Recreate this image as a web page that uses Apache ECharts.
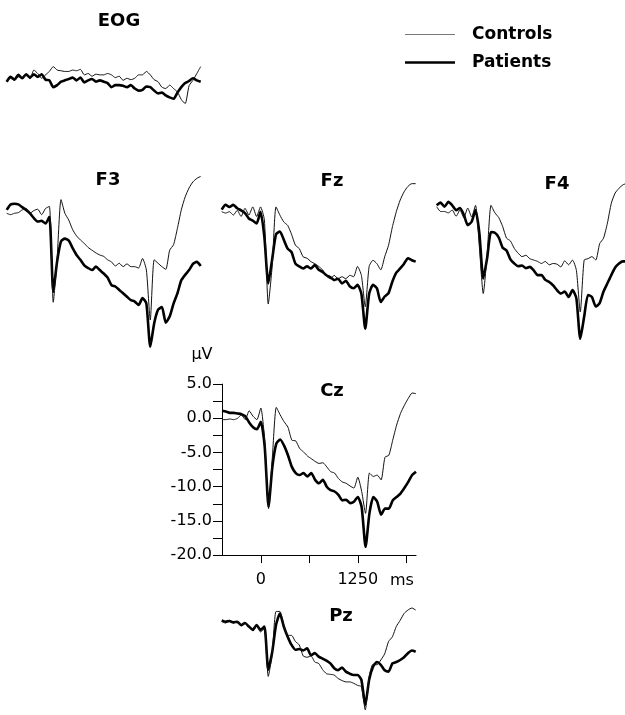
<!DOCTYPE html>
<html>
<head>
<meta charset="utf-8">
<script src="https://cdn.jsdelivr.net/npm/echarts@6/dist/echarts.min.js"></script>
<style>
html,body{margin:0;padding:0;background:#fff;}
#chart{width:625px;height:715px;}
</style>
</head>
<body>
<div id="chart"></div>
<script>
// time points (ms)
const time = [-500,-450,-400,-350,-300,-250,-200,-150,-100,-50,
  0,50,100,150,200,250,300,350,400,450,
  500,550,600,650,700,750,800,850,900,950,
  1000,1050,1100,1150,1200,1250,1300,1350,1400,1450,
  1500,1550,1600,1650,1700,1750,1800,1850,1900,1950,2000];

const seriesNames = ['Controls', 'Patients'];
const panelNames = ['EOG', 'F3', 'Fz', 'F4', 'Cz', 'Pz'];
const xTickValues = [0, 625, 1250, 1875];
const xLabelValues = [0, 1250];
const yLabelValues = [-20, -15, -10, -5, 0, 5];

// amplitudes (µV)
const eogControls = [0,0.5,0.2,0.7,0.6,1.0,0.4,1.7,1.2,0.5, 1.0,1.5,2.2,1.7,1.6,1.5,1.5,1.7,1.6,1.8, 1.0,1.2,0.8,1.1,1.0,1.0,1.2,1.0,0.6,0.8, 0.2,0.5,0.3,0.5,1.0,1.0,1.5,1.0,0.3,0, -0.8,-1.0,-0.5,-1.0,-1.5,-2.6,-3.2,-0.6,0.2,1.2, 2.2];
const eogPatients = [0,0.7,0.3,1.0,0.5,1.1,0.6,1.1,0.7,1.1, 0.3,0.2,-0.8,-0.5,0,0.2,0.4,0.6,0.2,0.6, -0.1,0.2,0.4,0,0.2,0,-0.2,-0.8,-0.5,-0.5, -0.6,-0.8,-0.5,-1.0,-1.3,-1.2,-0.7,-0.8,-1.3,-1.7, -1.6,-2.0,-2.3,-2.5,-1.6,-0.8,-0.2,0.1,0.5,0.2, 0];

const f3Controls = [0,-0.2,0,0.1,0.5,0.7,0,0.4,0.6,-0.2, 0.7,1.0,-13.0,-6.5,2.0,0,-1.0,-2.4,-3.3,-3.9, -4.4,-5.0,-5.4,-5.8,-6.1,-6.3,-6.8,-7.1,-7.7,-7.3, -7.8,-7.4,-7.8,-7.8,-8.0,-6.6,-8.3,-15.6,-6.8,-7.3, -7.8,-8.2,-5.4,-4.6,-2.2,0.5,2.4,3.7,4.6,5.1, 5.4];
const f3Patients = [0.5,1.3,1.4,1.3,0.9,0.5,0.0,-0.7,-1.2,-1.1, -1.5,-0.5,-11.5,-7.0,-4.1,-3.7,-4.0,-5.1,-6.1,-6.8, -7.6,-8.0,-8.3,-7.8,-8.3,-8.8,-9.4,-10.5,-10.7,-11.2, -11.7,-12.2,-12.7,-12.9,-13.4,-12.4,-13.2,-19.5,-16.1,-14.1, -13.7,-16.0,-15.1,-13.2,-11.7,-9.8,-9.0,-8.3,-7.4,-7.1, -7.7];

const fzControls = [0,-0.2,0,-0.5,0.2,-0.7,0.5,-0.5,0.7,-0.7, 0.7,-1.2,-13.5,-8.0,0.7,-0.5,-1.5,-2.0,-3.3,-4.9, -5.4,-6.6,-6.8,-7.3,-7.6,-8.0,-8.5,-9.4,-9.8,-9.3, -9.8,-9.5,-9.8,-9.3,-9.5,-8.0,-9.3,-13.9,-8.0,-7.1, -7.6,-8.5,-6.6,-4.9,-2.2,0,1.7,2.9,3.7,4.1, 4.1];
const fzPatients = [0.3,1.0,0.7,1.0,0.5,0.2,-0.2,-1.0,-1.3,-1.7, 0.0,-3.7,-10.5,-7.0,-3.3,-2.9,-4.1,-5.4,-5.9,-7.6, -8.0,-8.3,-8.0,-8.3,-7.8,-8.5,-8.8,-9.3,-9.6,-10.0, -9.8,-10.5,-10.1,-10.9,-11.2,-10.7,-12.0,-17.1,-12.0,-10.7, -11.2,-13.2,-12.4,-11.9,-10.2,-8.9,-8.3,-7.6,-6.8,-7.1, -7.3];

const f4Controls = [0,-0.7,-0.7,-0.9,-0.5,-1.4,-0.5,-1.6,-0.2,-1.5, 0.2,-5.9,-12.7,-7.0,0.2,-0.9,-1.6,-2.9,-4.6,-5.0, -6.1,-6.8,-7.3,-7.1,-7.6,-7.8,-8.0,-8.3,-8.0,-8.5, -8.3,-8.4,-8.8,-7.9,-8.5,-7.8,-9.3,-15.4,-7.8,-7.6, -7.3,-7.8,-5.4,-4.6,-2.4,0.5,2.0,2.7,3.2,3.4, 3.5];
const f4Patients = [0.2,0.6,0,0.7,0.2,-0.5,-0.2,-1.2,-2.7,-2.2, -0.5,-3.9,-10.5,-7.5,-3.7,-3.8,-4.5,-6.0,-6.4,-7.7, -8.3,-8.7,-8.6,-9.0,-8.8,-9.3,-10.0,-10.0,-10.7,-11.0, -11.5,-12.2,-12.7,-12.4,-13.2,-12.2,-13.4,-19.3,-16.1,-12.9, -13.2,-14.6,-14.1,-12.4,-11.2,-10.0,-8.9,-8.3,-8.0,-8.0, -8.0];

const czControls = [-0.2,-0.2,-0.1,-0.2,0,0.5,-0.2,1.1,0.3,-0.2, 1.5,-3.2,-13.2,-5.5,1.6,0.5,-0.5,-1.3,-3.2,-3.3, -4.4,-4.9,-5.5,-5.9,-6.3,-6.6,-6.5,-7.1,-7.8,-8.0, -8.8,-9.3,-9.5,-9.9,-10.2,-8.6,-10.7,-13.9,-8.0,-8.5, -8.3,-9.0,-5.7,-5.4,-3.2,-1.0,0.7,1.9,2.9,3.7, 3.6];
const czPatients = [1.1,1.0,0.8,0.8,0.7,0.6,0.3,-0.6,-1.3,-1.6, -0.5,-4.1,-12.9,-7.0,-3.7,-3.1,-4.0,-5.4,-7.1,-8.0, -8.3,-8.0,-8.5,-8.0,-9.0,-9.5,-9.0,-10.0,-10.5,-10.7, -11.2,-12.0,-11.9,-12.4,-12.2,-11.5,-13.0,-18.8,-13.9,-11.5, -12.2,-14.1,-13.2,-13.2,-12.0,-11.5,-11.0,-10.2,-9.3,-8.3, -7.8];

const pzControls = [0,-0.2,0.2,-0.2,0,-0.5,-0.2,-0.7,-1.0,-0.5, -1.5,-1.0,-8.0,-4.7,1.5,1.5,-0.5,-2.0,-2.0,-2.9, -3.4,-5.0,-5.2,-5.0,-5.9,-6.1,-7.0,-7.6,-7.7,-7.8, -8.3,-8.6,-8.8,-8.8,-9.0,-9.3,-9.5,-12.9,-8.0,-6.2, -6.3,-5.6,-4.7,-2.9,-2.2,-0.7,0.2,1.2,1.7,2.0, 1.7];
const pzPatients = [0.2,0,0.1,-0.1,0,-0.5,-0.2,-0.7,-1.2,-0.5, -1.2,-0.7,-7.0,-4.5,-0.5,1.2,-0.7,-2.2,-3.4,-4.1, -4.0,-4.2,-3.9,-4.9,-4.6,-5.1,-5.4,-5.7,-6.1,-6.8, -7.1,-6.7,-7.3,-7.6,-7.8,-7.8,-8.5,-12.2,-8.5,-6.6, -5.9,-6.3,-7.1,-7.3,-6.1,-5.9,-5.6,-5.2,-4.6,-4.2, -4.4];

const panelData = [
  [eogControls, eogPatients],
  [f3Controls, f3Patients],
  [fzControls, fzPatients],
  [f4Controls, f4Patients],
  [czControls, czPatients],
  [pzControls, pzPatients]
];

// layout: left edge, pixel of 0 µV, visible amplitude window, visible time end, title position
const PX_PER_UV = 6.84;
const PX_PER_MS = 194 / 2500;
const T_MIN = -500;
const layout = [
  {left: 6.7,   y0: 81.7,  yMin: -10, yMax: 10, tMax: 2000, tx: 119, ty: 21},
  {left: 6.7,   y0: 213.3, yMin: -20, yMax: 10, tMax: 2000, tx: 108, ty: 180},
  {left: 221.7, y0: 211.7, yMin: -20, yMax: 10, tMax: 2000, tx: 332, ty: 181},
  {left: 436.7, y0: 206.7, yMin: -20, yMax: 10, tMax: 1925, tx: 557, ty: 184},
  {left: 222,   y0: 418.3, yMin: -20, yMax: 5,  tMax: 2000, tx: 332, ty: 391},
  {left: 221.7, y0: 621.7, yMin: -13, yMax: 5,  tMax: 2000, tx: 341, ty: 616}
];
const CZ = 4;

const FONT = 'DejaVu Sans';
const grids = [], xAxes = [], yAxes = [], series = [], graphics = [];

layout.forEach((p, i) => {
  const isCz = i === CZ;
  grids.push({
    left: p.left,
    top: p.y0 - p.yMax * PX_PER_UV,
    width: (p.tMax - T_MIN) * PX_PER_MS,
    height: (p.yMax - p.yMin) * PX_PER_UV,
    containLabel: false
  });
  xAxes.push({
    type: 'value', gridIndex: i, min: T_MIN, max: p.tMax,
    show: isCz,
    axisLine: {show: true, onZero: false, lineStyle: {color: '#000', width: 1}},
    axisTick: {show: true, length: 8, customValues: xTickValues, lineStyle: {color: '#000', width: 1}},
    axisLabel: {show: true, customValues: xLabelValues, margin: 17, color: '#000',
      fontFamily: FONT, fontSize: 16, formatter: v => String(v)},
    splitLine: {show: false}
  });
  yAxes.push({
    type: 'value', gridIndex: i, min: p.yMin, max: p.yMax, interval: 2.5,
    show: isCz,
    axisLine: {show: true, onZero: false, lineStyle: {color: '#000', width: 1}},
    axisTick: {show: true, length: 9, lineStyle: {color: '#000', width: 1}},
    axisLabel: {show: true, customValues: yLabelValues, margin: 10, color: '#000',
      fontFamily: FONT, fontSize: 16, formatter: v => Number(v).toFixed(1)},
    splitLine: {show: false}
  });
  const [ctrl, pat] = panelData[i];
  series.push({
    name: seriesNames[0], type: 'line', xAxisIndex: i, yAxisIndex: i,
    data: time.map((t, k) => [t, ctrl[k]]),
    symbol: 'none', showSymbol: false, smooth: 0.2, clip: false,
    lineStyle: {color: '#111', width: 1}, itemStyle: {color: '#111'}, z: 3
  });
  series.push({
    name: seriesNames[1], type: 'line', xAxisIndex: i, yAxisIndex: i,
    data: time.map((t, k) => [t, pat[k]]),
    symbol: 'none', showSymbol: false, smooth: 0.2, clip: false,
    lineStyle: {color: '#000', width: 2.6}, itemStyle: {color: '#000'}, z: 2
  });
  graphics.push({
    type: 'text', x: p.tx, y: p.ty,
    style: {text: panelNames[i], fill: '#000', align: 'center', verticalAlign: 'middle',
      fontFamily: FONT, fontWeight: 'bold', fontSize: 18}
  });
});

graphics.push({
  type: 'text', x: 202, y: 355,
  style: {text: 'μV', fill: '#000', align: 'center', verticalAlign: 'middle', fontFamily: FONT, fontSize: 16}
});
graphics.push({
  type: 'text', x: 390, y: 581,
  style: {text: 'ms', fill: '#000', align: 'left', verticalAlign: 'middle', fontFamily: FONT, fontSize: 16}
});

const legendText = {color: '#000', fontFamily: FONT, fontWeight: 'bold', fontSize: 17, padding: [0, 0, 0, 12]};
const chart = echarts.init(document.getElementById('chart'), null, {renderer: 'canvas'});
chart.setOption({
  animation: false,
  backgroundColor: '#fff',
  textStyle: {fontFamily: FONT},
  legend: [
    {
      data: [{name: seriesNames[0], icon: 'rect', itemStyle: {color: '#777'}}],
      left: 400, top: 21, itemWidth: 50, itemHeight: 1.2,
      selectedMode: false, textStyle: legendText
    },
    {
      data: [{name: seriesNames[1], icon: 'rect', itemStyle: {color: '#000'}}],
      left: 400, top: 49, itemWidth: 50, itemHeight: 2.6,
      selectedMode: false, textStyle: legendText
    }
  ],
  grid: grids,
  xAxis: xAxes,
  yAxis: yAxes,
  series: series,
  graphic: graphics
});
</script>
</body>
</html>
